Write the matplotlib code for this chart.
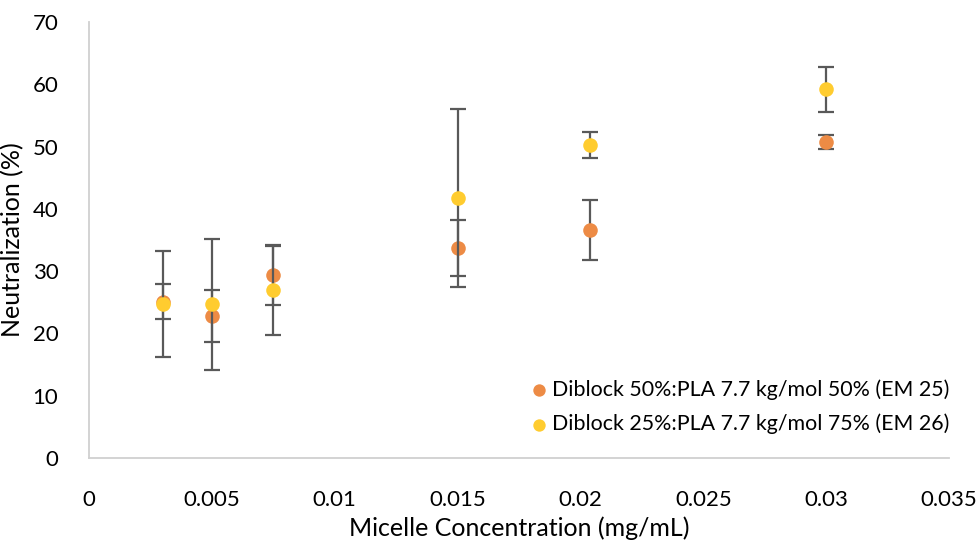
import matplotlib
matplotlib.use("Agg")
import matplotlib.pyplot as plt
import numpy as np

plt.rcParams['font.family'] = ['Lato', 'DejaVu Sans']

# micelle concentration (mg/mL)
conc_em25 = [0.003, 0.005, 0.0075, 0.015, 0.0204, 0.03]
conc_em26 = [0.003, 0.005, 0.0075, 0.015, 0.0204, 0.03]

# neutralization (%) and error
neut_em25 = [25.1, 22.8, 29.4, 33.7, 36.6, 50.7]
err_em25 = [2.8, 4.1, 4.8, 4.5, 4.85, 1.15]
neut_em26 = [24.7, 24.7, 26.9, 41.7, 50.3, 59.2]
err_em26 = [8.5, 10.5, 7.1, 14.3, 2.1, 3.6]

label_em25 = "Diblock 50%:PLA 7.7 kg/mol 50% (EM 25)"
label_em26 = "Diblock 25%:PLA 7.7 kg/mol 75% (EM 26)"

fig = plt.figure(figsize=(9.79, 5.43), dpi=100)
ax = fig.add_axes([89 / 979, 1 - 458 / 543, (949 - 89) / 979, (458 - 22) / 543])

err_kw = dict(fmt='none', ecolor='#595959', elinewidth=1.6, capsize=6, capthick=1.6)
ax.errorbar(conc_em25, neut_em25, yerr=err_em25, zorder=2, **err_kw)
ax.scatter(conc_em25, neut_em25, s=110, color='#ED8B45', zorder=3, label=label_em25, linewidths=0)
ax.errorbar(conc_em26, neut_em26, yerr=err_em26, zorder=4, **err_kw)
ax.scatter(conc_em26, neut_em26, s=110, color='#FFCC2F', zorder=5, label=label_em26, linewidths=0)

ax.set_xlim(0, 0.035)
ax.set_ylim(0, 70)
ax.set_xticks(np.arange(0, 0.0351, 0.005))
ax.set_xticklabels(['0', '0.005', '0.01', '0.015', '0.02', '0.025', '0.03', '0.035'])
ax.set_yticks(range(0, 71, 10))

for side in ['top', 'right']:
    ax.spines[side].set_visible(False)
for side in ['left', 'bottom']:
    ax.spines[side].set_color('#D0D0D0')
    ax.spines[side].set_linewidth(1.3)
ax.tick_params(length=0, labelsize=16, colors='black')
ax.tick_params(axis='x', pad=23)
ax.tick_params(axis='y', pad=22)

ax.set_xlabel('Micelle Concentration (mg/mL)', fontsize=18, labelpad=5)
ax.set_ylabel('Neutralization (%)', fontsize=18, labelpad=6)

ax.legend(loc='lower right', bbox_to_anchor=(1.02, 0.015), frameon=False, fontsize=15.4,
          handlelength=0.8, handletextpad=0.2, markerscale=0.85, labelspacing=0.65,
          borderpad=0.3)

fig.savefig('out.png', dpi=100)
